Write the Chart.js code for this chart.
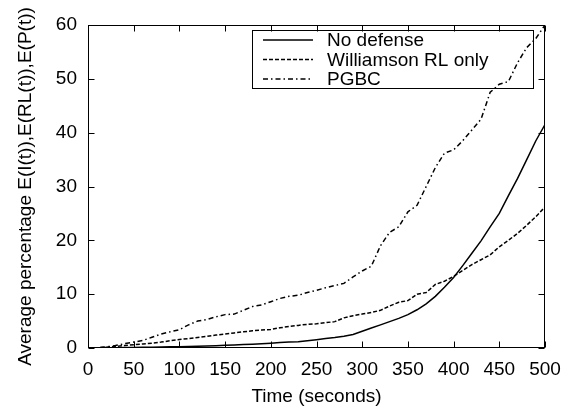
<!DOCTYPE html>
<html><head><meta charset="utf-8">
<script src="https://cdn.jsdelivr.net/npm/chart.js@4"></script>
<style>html,body{margin:0;padding:0;background:#fff}#wrap{width:575px;height:412px;position:relative}</style>
</head><body><div id="wrap"><canvas id="c"></canvas></div>
<script>
const times = [0,10,20,30,40,50,60,70,80,90,100,110,120,130,140,150,160,170,180,190,200,210,220,230,240,250,260,270,280,290,300,310,320,330,340,350,360,370,380,390,400,410,420,430,440,450,460,470,480,490,500];
const noDefense = [0,0.02,0.04,0.06,0.08,0.1,0.12,0.15,0.18,0.21,0.25,0.29,0.33,0.38,0.44,0.5,0.56,0.63,0.71,0.8,0.9,1.0,1.1,1.15,1.35,1.55,1.75,1.95,2.2,2.5,3.1,3.7,4.3,4.9,5.5,6.2,7.1,8.2,9.6,11.3,13.1,15.3,17.6,19.9,22.5,25.0,28.3,31.5,35.0,38.5,41.5];
const williamson = [0,0.05,0.15,0.3,0.45,0.6,0.75,0.9,1.1,1.35,1.6,1.75,1.95,2.15,2.4,2.6,2.8,3.0,3.2,3.35,3.45,3.75,4.0,4.2,4.4,4.5,4.7,4.9,5.6,6.0,6.3,6.6,7.0,7.8,8.5,8.8,10.0,10.3,11.8,12.4,13.3,14.4,15.5,16.4,17.3,18.8,20.0,21.3,22.8,24.4,26.2];
const pgbc = [0,0.05,0.2,0.45,0.8,1.1,1.4,2.0,2.6,3.0,3.4,4.3,5.0,5.3,5.8,6.2,6.3,7.0,7.7,8.0,8.6,9.2,9.6,9.8,10.3,10.7,11.2,11.6,12.0,13.2,14.3,15.2,19.0,21.5,22.5,25.3,26.5,30.0,33.5,36.2,36.8,38.5,40.5,42.5,47.5,49.0,49.5,53.0,55.8,57.5,60.0];
const xTickValues = [0,50,100,150,200,250,300,350,400,450,500];
const yTickValues = [0,10,20,30,40,50,60];
const seriesNames = ["No defense","Williamson RL only","PGBC"];
const xTitle = "Time (seconds)";
const yTitle = "Average percentage E(I(t)),E(RL(t)),E(P(t))";

const FONT = {family: "'Liberation Sans', Arial, Helvetica, sans-serif", size: 19};

function pts(vals){ return times.map((t,i)=>({x:t,y:vals[i]})); }

const framePlugin = {
  id: 'frame',
  afterDatasetsDraw(chart){
    const ctx = chart.ctx, a = chart.chartArea;
    const xs = chart.scales.x, ys = chart.scales.y;
    ctx.save();
    ctx.strokeStyle = '#000';
    ctx.lineWidth = 1;
    const L = Math.round(a.left)+0.5, R = Math.round(a.right)-0.5, T = Math.round(a.top)+0.5, B = Math.round(a.bottom)-0.5;
    ctx.strokeRect(L, T, R-L, B-T);
    const tl = 6;
    ctx.beginPath();
    xTickValues.forEach(v=>{
      const px = Math.round(xs.getPixelForValue(v))+0.5;
      ctx.moveTo(px,B); ctx.lineTo(px,B-tl);
      ctx.moveTo(px,T); ctx.lineTo(px,T+tl);
    });
    yTickValues.forEach(v=>{
      const py = Math.round(ys.getPixelForValue(v))+0.5;
      ctx.moveTo(L,py); ctx.lineTo(L+tl,py);
      ctx.moveTo(R,py); ctx.lineTo(R-tl,py);
    });
    ctx.stroke();
    // legend
    const bx = 252.5, by = 30.5, bw = 281, bh = 58;
    ctx.strokeRect(bx, by, bw, bh);
    const rows = [40, 59.5, 79];
    ctx.font = FONT.size + "px " + FONT.family;
    ctx.textBaseline = 'middle';
    ctx.fillStyle = '#000';
    chart.data.datasets.forEach((ds,i)=>{
      const y = rows[i];
      ctx.save();
      ctx.lineWidth = ds.borderWidth;
      ctx.setLineDash(ds.borderDash || []);
      ctx.beginPath(); ctx.moveTo(263,y); ctx.lineTo(313,y); ctx.stroke();
      ctx.restore();
      ctx.fillText(ds.label, 327, y+1);
    });
    ctx.restore();
  }
};

new Chart(document.getElementById('c'), {
  type: 'line',
  data: {
    datasets: [
      {label: seriesNames[0], data: pts(noDefense), borderColor:'#000', borderWidth:1.5, pointRadius:0, fill:false, tension:0},
      {label: seriesNames[1], data: pts(williamson), borderColor:'#000', borderWidth:1.5, borderDash:[4,2], pointRadius:0, fill:false, tension:0},
      {label: seriesNames[2], data: pts(pgbc), borderColor:'#000', borderWidth:1.5, borderDash:[5,3,1.5,3], pointRadius:0, fill:false, tension:0}
    ]
  },
  options: {
    responsive: true, maintainAspectRatio: false, animation: false, devicePixelRatio: 1,
    layout: {padding: {left:0, top:25, right:30, bottom:0}},
    plugins: {legend:{display:false}, tooltip:{enabled:false}},
    scales: {
      x: {
        type:'linear', min:0, max:500,
        afterFit(s){ s.height = 64; },
        afterBuildTicks(s){ s.ticks = xTickValues.map(v=>({value:v})); },
        grid:{display:false, drawTicks:false}, border:{display:false},
        ticks:{font:FONT, color:'#000', padding:10, maxRotation:0, autoSkip:false},
        title:{display:true, text:xTitle, font:FONT, color:'#000', padding:{top:0,bottom:4}}
      },
      y: {
        type:'linear', min:0, max:60,
        afterFit(s){ s.width = 88; },
        afterBuildTicks(s){ s.ticks = yTickValues.map(v=>({value:v})); },
        grid:{display:false, drawTicks:false}, border:{display:false},
        ticks:{font:FONT, color:'#000', padding:11},
        title:{display:true, text:yTitle, font:FONT, color:'#000', padding:{top:14,bottom:0}}
      }
    }
  },
  plugins:[framePlugin]
});
</script>
</body></html>
